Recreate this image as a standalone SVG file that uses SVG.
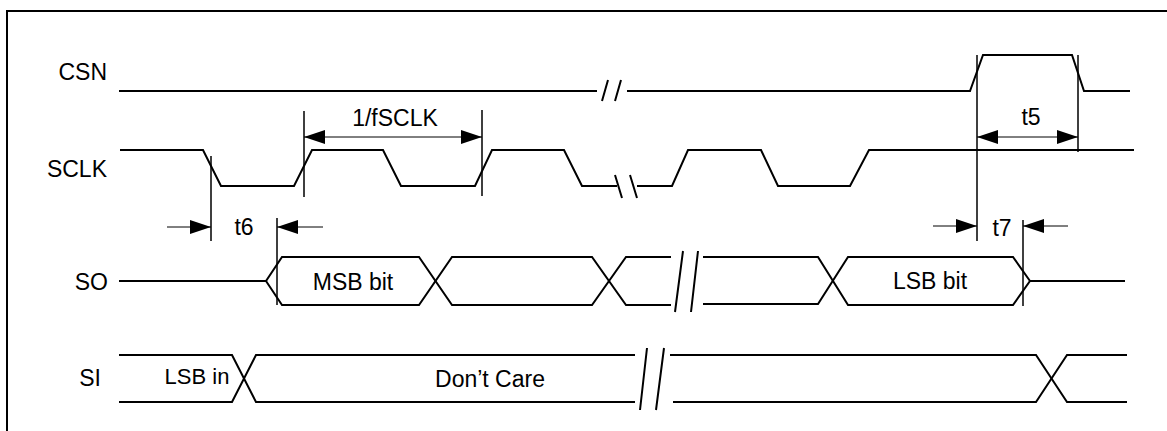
<svg xmlns="http://www.w3.org/2000/svg" width="1167" height="431" viewBox="0 0 1167 431">
<style>
.sig{fill:none;stroke:#000;stroke-width:2;stroke-linejoin:miter}
.brk{fill:none;stroke:#000;stroke-width:2}
.ref{fill:none;stroke:#000;stroke-width:1.5}
.dim{fill:none;stroke:#000;stroke-width:1}
text{font-family:"Liberation Sans",Arial,sans-serif;font-size:23px;fill:#000}
.r{text-anchor:end}
.m{text-anchor:middle}
.s{font-size:22px}
</style>
<defs>
<marker id="ah" viewBox="0 0 21 14" refX="21" refY="7" markerWidth="21" markerHeight="14" markerUnits="userSpaceOnUse" orient="auto-start-reverse">
<path d="M0,0 L21,7 L0,14 z" fill="#000"/>
</marker>
</defs>
<rect width="1167" height="431" fill="#fff"/>
<path d="M7,431 V11 H1167" fill="none" stroke="#000" stroke-width="2"/>

<g id="csn">
<text class="r" x="107" y="80">CSN</text>
<path class="sig" d="M119,91 H597"/>
<path class="brk" d="M602,101 L608,80 M615,101 L621,80"/>
<path class="sig" d="M627,91 H970 L983,55 H1072 L1084,91 H1130"/>
</g>

<g id="sclk">
<text class="r" x="107" y="177">SCLK</text>
<path class="sig" d="M120,150 H203 L221,186 H294 L312,150 H383 L401,186 H475 L492,150 H564 L582,186 H617"/>
<path class="brk" d="M615,175 L622,198 M630,175 L637,198"/>
<path class="sig" d="M637,186 H672 L688,150 H761 L778,186 H850 L869,150 H1134"/>
</g>

<g id="so">
<text class="r" x="108" y="290">SO</text>
<path class="sig" d="M119,281 H266 L282,257 H419 L452,305 H592 L626,257 H671"/>
<path class="sig" d="M266,281 L282,305 H419 L452,257 H592 L626,305 H671"/>
<path class="brk" d="M675,312 L683,251 M691,312 L698,251"/>
<path class="sig" d="M703,257 H818 L848,305 H1013 L1030,281 H1125"/>
<path class="sig" d="M703,304 H818 L848,257 H1013 L1030,281"/>
<text class="m" x="353" y="290">MSB bit</text>
<text class="m" x="930" y="289">LSB bit</text>
</g>

<g id="si">
<text class="r" x="101" y="386">SI</text>
<path class="sig" d="M119,355 H232 L256,402 H635"/>
<path class="sig" d="M119,402 H232 L256,355 H635"/>
<path class="brk" d="M640,410 L647,348 M656,410 L664,348"/>
<path class="sig" d="M670,355 H1036 L1067,402 H1127"/>
<path class="sig" d="M673,402 H1036 L1067,355 H1127"/>
<text class="m s" x="197" y="384">LSB in</text>
<text class="m" x="490" y="387">Don’t Care</text>
</g>

<g id="connectors">
<path class="ref" d="M304,111 V197 M482,110 V196"/>
<line class="dim" x1="304" y1="137" x2="482" y2="137" marker-start="url(#ah)" marker-end="url(#ah)"/>
<text class="m" x="395" y="126">1/fSCLK</text>

<path class="ref" d="M211,156 V241 M277,218 V305"/>
<line class="dim" x1="167" y1="227" x2="211" y2="227" marker-end="url(#ah)"/>
<line class="dim" x1="323" y1="227" x2="277" y2="227" marker-end="url(#ah)"/>
<text class="m" x="244" y="235">t6</text>

<path class="ref" d="M977,55 V241 M1078,55 V152"/>
<line class="dim" x1="977" y1="137" x2="1078" y2="137" marker-start="url(#ah)" marker-end="url(#ah)"/>
<text class="m" x="1031" y="125">t5</text>

<path class="ref" d="M1023,220 V306"/>
<line class="dim" x1="933" y1="226" x2="977" y2="226" marker-end="url(#ah)"/>
<line class="dim" x1="1068" y1="226" x2="1023" y2="226" marker-end="url(#ah)"/>
<text class="m" x="1002" y="236">t7</text>
</g>
</svg>
